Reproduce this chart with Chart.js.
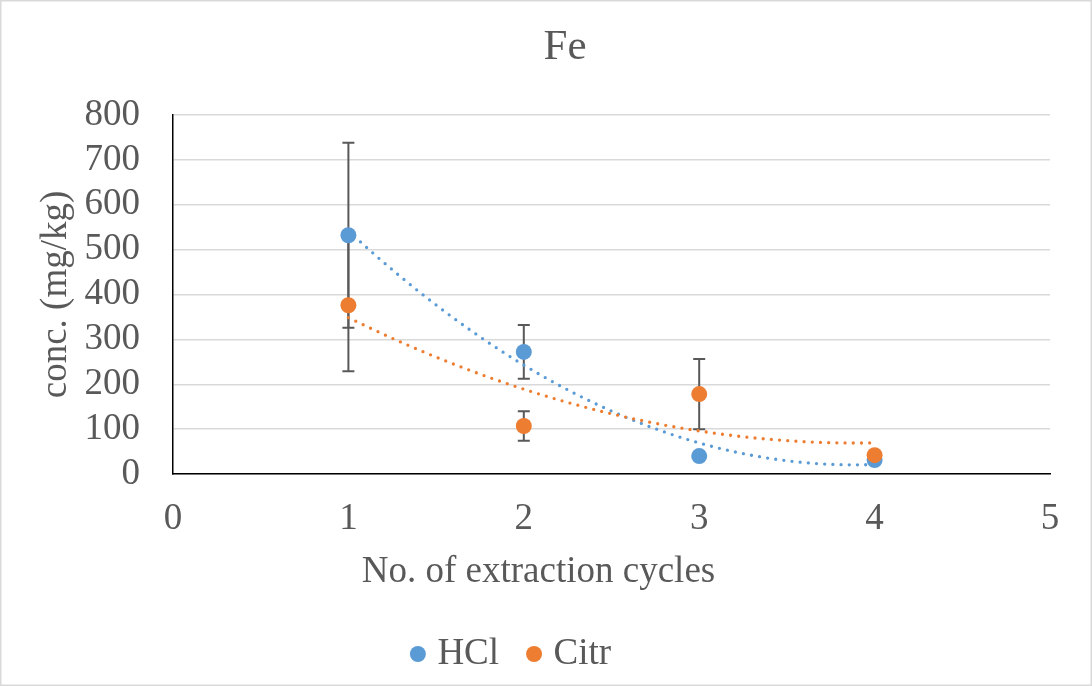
<!DOCTYPE html>
<html>
<head>
<meta charset="utf-8">
<title>Fe</title>
<script src="https://cdn.jsdelivr.net/npm/chart.js@4.4.1/dist/chart.umd.min.js"></script>
<style>
  html, body { margin: 0; padding: 0; background: #fff; }
  canvas { display: block; }
</style>
</head>
<body>
<canvas id="fe-chart" width="1092" height="686"></canvas>
<script>
// Fe concentration per extraction cycle (mean and standard deviation, mg/kg)
const cycles = [1, 2, 3, 4];
const hclMean = [532, 272, 40, 31];
const hclSd = [206, 60, 5, 5];
const citrMean = [376, 107, 178, 42];
const citrSd = [147, 33, 78, 5];

// Axis ranges
const xMin = 0, xMax = 5, xStep = 1;
const yMin = 0, yMax = 800, yStep = 100;

const blue = '#5B9BD5';
const orange = '#ED7D31';
const textGrey = '#595959';
const serif = "'Liberation Serif', 'Times New Roman', serif";

// Least squares fit of a 2nd order polynomial, returns [a, b, c] for a + bx + cx^2
const quadFit = (xs, ys) => {
  const s = [0, 0, 0, 0, 0];
  const t = [0, 0, 0];
  xs.forEach((x, i) => {
    for (let k = 0; k < 5; k++) s[k] += Math.pow(x, k);
    for (let k = 0; k < 3; k++) t[k] += Math.pow(x, k) * ys[i];
  });
  const m = [[s[0], s[1], s[2]], [s[1], s[2], s[3]], [s[2], s[3], s[4]]];
  const det = (a) => a[0][0] * (a[1][1] * a[2][2] - a[1][2] * a[2][1])
    - a[0][1] * (a[1][0] * a[2][2] - a[1][2] * a[2][0])
    + a[0][2] * (a[1][0] * a[2][1] - a[1][1] * a[2][0]);
  const d = det(m);
  return [0, 1, 2].map((col) => {
    const mc = m.map((row, r) => row.map((v, c) => (c === col ? t[r] : v)));
    return det(mc) / d;
  });
};

const toPoints = (xs, ys) => xs.map((x, i) => ({ x, y: ys[i] }));

// White background and thin frame round the chart
const frame = {
  id: 'frame',
  beforeDraw(chart) {
    const { ctx, width, height } = chart;
    ctx.save();
    ctx.fillStyle = '#fff';
    ctx.fillRect(0, 0, width, height);
    ctx.strokeStyle = '#D9D9D9';
    ctx.lineWidth = 1.5;
    ctx.strokeRect(0.75, 0.75, width - 1.5, height - 1.5);
    ctx.restore();
  }
};

// Vertical error bars with caps, under the markers
const errorBars = {
  id: 'errorBars',
  beforeDatasetsDraw(chart) {
    const { ctx, scales: { x, y } } = chart;
    ctx.save();
    ctx.strokeStyle = textGrey;
    ctx.lineWidth = 2;
    chart.data.datasets.forEach((ds) => {
      ds.data.forEach((p, i) => {
        const sd = ds.errors[i];
        const px = x.getPixelForValue(p.x);
        const top = y.getPixelForValue(p.y + sd);
        const bottom = y.getPixelForValue(p.y - sd);
        ctx.beginPath();
        ctx.moveTo(px, top);
        ctx.lineTo(px, bottom);
        ctx.moveTo(px - 6, top);
        ctx.lineTo(px + 6, top);
        ctx.moveTo(px - 6, bottom);
        ctx.lineTo(px + 6, bottom);
        ctx.stroke();
      });
    });
    ctx.restore();
  }
};

// Dotted polynomial trendlines over the data range
const trendlines = {
  id: 'trendlines',
  beforeDatasetsDraw(chart) {
    const { ctx, scales: { x, y } } = chart;
    ctx.save();
    ctx.lineWidth = 3.3;
    ctx.lineCap = 'round';
    ctx.setLineDash([0, 8.2]);
    chart.data.datasets.forEach((ds) => {
      const xs = ds.data.map((p) => p.x);
      const ys = ds.data.map((p) => p.y);
      const [a, b, c] = quadFit(xs, ys);
      const from = Math.min(...xs);
      const to = Math.max(...xs);
      ctx.strokeStyle = ds.backgroundColor;
      ctx.beginPath();
      for (let v = from; v <= to + 1e-9; v += 0.01) {
        const px = x.getPixelForValue(v);
        const py = y.getPixelForValue(a + b * v + c * v * v);
        if (v === from) ctx.moveTo(px, py); else ctx.lineTo(px, py);
      }
      ctx.stroke();
    });
    ctx.restore();
  }
};

// Horizontal offsets for the chart title, x axis title and legend row
const titleOffset = 40;
const xTitleOffset = -73;
const legendOffset = -11;

const nudge = {
  id: 'nudge',
  afterLayout(chart) {
    if (chart.titleBlock) {
      chart.titleBlock.left += titleOffset;
      chart.titleBlock.right += titleOffset;
    }
    if (chart.legend) {
      chart.legend.left += legendOffset;
      chart.legend.right += legendOffset;
    }
    const sx = chart.scales.x;
    if (sx && !sx._nudged) {
      const drawTitle = sx.drawTitle;
      sx.drawTitle = function () {
        const { left, right } = this;
        this.left += xTitleOffset;
        this.right += xTitleOffset;
        drawTitle.call(this);
        this.left = left;
        this.right = right;
      };
      sx._nudged = true;
    }
  }
};

const ctx = document.getElementById('fe-chart');

new Chart(ctx, {
  type: 'scatter',
  data: {
    datasets: [
      {
        label: 'HCl',
        data: toPoints(cycles, hclMean),
        errors: hclSd,
        backgroundColor: blue,
        borderColor: blue,
        borderWidth: 0,
        pointRadius: 8,
        pointHoverRadius: 8,
        order: 1,
      },
      {
        label: 'Citr',
        data: toPoints(cycles, citrMean),
        errors: citrSd,
        backgroundColor: orange,
        borderColor: orange,
        borderWidth: 0,
        pointRadius: 8,
        pointHoverRadius: 8,
        order: 0,
      },
    ],
  },
  options: {
    responsive: false,
    devicePixelRatio: 1,
    animation: false,
    events: [],
    layout: {
      padding: { left: 0, right: 42, top: 0, bottom: 3.5 },
    },
    scales: {
      x: {
        type: 'linear',
        min: xMin,
        max: xMax,
        afterFit: (scale) => { scale.height = 127.5; },
        ticks: {
          stepSize: xStep,
          padding: 27,
          color: textGrey,
          font: { family: serif, size: 37, lineHeight: 1 },
        },
        grid: { display: false, drawTicks: false },
        border: { display: true, color: '#000', width: 1.5 },
        title: {
          display: true,
          text: 'No. of extraction cycles',
          color: textGrey,
          font: { family: serif, size: 37, lineHeight: 1 },
          padding: { top: 0, bottom: 11 },
        },
      },
      y: {
        type: 'linear',
        min: yMin,
        max: yMax,
        afterFit: (scale) => { scale.width = 173; },
        ticks: {
          stepSize: yStep,
          padding: 33,
          color: textGrey,
          font: { family: serif, size: 37, lineHeight: 1 },
        },
        grid: { color: '#D9D9D9', lineWidth: 1.5, drawTicks: false },
        border: { display: true, color: '#000', width: 1.5 },
        title: {
          display: true,
          text: 'conc. (mg/kg)',
          color: textGrey,
          font: { family: serif, size: 37, lineHeight: 1 },
          padding: { top: 37.5, bottom: 0 },
        },
      },
    },
    plugins: {
      title: {
        display: true,
        text: 'Fe',
        color: textGrey,
        font: { family: serif, size: 43, weight: 'normal', lineHeight: 1 },
        padding: { top: 26.5, bottom: 45.5 },
      },
      legend: {
        display: true,
        position: 'bottom',
        labels: {
          usePointStyle: true,
          pointStyle: 'circle',
          boxWidth: 2,
          boxHeight: 11.3,
          padding: 34,
          color: textGrey,
          font: { family: serif, size: 37, lineHeight: 1 },
          sort: (a, b) => a.datasetIndex - b.datasetIndex,
        },
      },
      tooltip: { enabled: false },
    },
  },
  plugins: [frame, errorBars, trendlines, nudge],
});
</script>
</body>
</html>
